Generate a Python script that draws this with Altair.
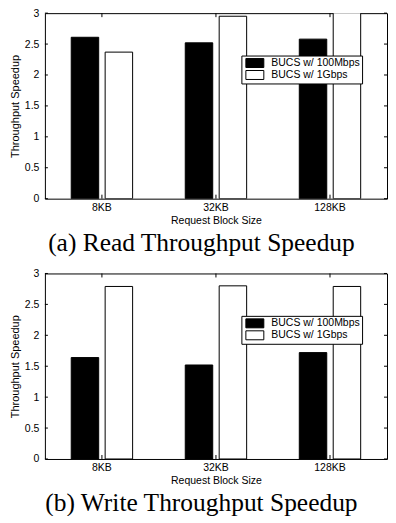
import altair as alt
import pandas as pd

categories = ["8KB", "32KB", "128KB"]
series = ["BUCS w/ 100Mbps", "BUCS w/ 1Gbps"]
read_100m = [2.61, 2.52, 2.58]
read_1g = [2.37, 2.95, 3.25]
write_100m = [1.64, 1.52, 1.72]
write_1g = [2.79, 2.80, 2.79]
y_ticks = [0, 0.5, 1, 1.5, 2, 2.5, 3]
captions = ["(a) Read Throughput Speedup", "(b) Write Throughput Speedup"]

W = 343
H = 186
SANS = "Liberation Sans"
SERIF = "Liberation Serif"

tick_df = pd.DataFrame({"value": y_ticks})
cat_df = pd.DataFrame({"size": categories})

x_axis = alt.Axis(
    title="Request Block Size",
    ticks=False,
    domain=False,
    labelAngle=0,
    labelPadding=4,
    titlePadding=2,
    labelFont=SANS,
    labelFontSize=10.5,
    labelColor="black",
    titleFont=SANS,
    titleFontSize=10.5,
    titleFontWeight="normal",
    titleColor="black",
)
y_axis = alt.Axis(
    title="Throughput Speedup",
    values=y_ticks,
    format="~g",
    ticks=False,
    domain=False,
    grid=False,
    labelPadding=6,
    titlePadding=4,
    labelFont=SANS,
    labelFontSize=10.5,
    labelColor="black",
    titleFont=SANS,
    titleFontSize=11,
    titleFontWeight="normal",
    titleColor="black",
)
x_scale = alt.Scale(paddingInner=0, paddingOuter=0)
y_scale = alt.Scale(domain=[0, 3], nice=False, zero=True)


def panel(v100, v1g, caption):
    rows = []
    for c, a, b in zip(categories, v100, v1g):
        rows.append({"size": c, "series": series[0], "value": a})
        rows.append({"size": c, "series": series[1], "value": b})
    df = pd.DataFrame(rows)

    bars = alt.Chart(df).mark_bar(stroke="black", strokeWidth=1, clip=True, opacity=1).encode(
        x=alt.X("size:N", sort=categories, scale=x_scale, axis=x_axis),
        xOffset=alt.XOffset(
            "series:N",
            sort=series,
            scale=alt.Scale(paddingInner=0.19, paddingOuter=0.776),
        ),
        y=alt.Y("value:Q", scale=y_scale, axis=y_axis),
        fill=alt.Fill(
            "series:N",
            sort=series,
            scale=alt.Scale(domain=series, range=["black", "white"]),
            legend=alt.Legend(
                title=None,
                orient="none",
                legendX=197,
                legendY=42.5,
                strokeColor="black",
                fillColor="white",
                padding=2,
                symbolType="M-0.6,-0.9H3.0V0.9H-0.6Z",
                symbolSize=100,
                symbolStrokeColor="black",
                symbolStrokeWidth=1,
                symbolOpacity=1,
                labelFont=SANS,
                labelFontSize=10.5,
                labelColor="black",
                labelOffset=17,
                labelExpr="datum.label + ' '",
                rowPadding=-4.8,
            ),
        ),
    )

    left_ticks = alt.Chart(tick_df).mark_rule(color="black", strokeWidth=1).encode(
        y=alt.Y("value:Q", scale=y_scale, axis=y_axis), x=alt.value(0), x2=alt.value(3)
    )
    right_ticks = alt.Chart(tick_df).mark_rule(color="black", strokeWidth=1).encode(
        y=alt.Y("value:Q", scale=y_scale, axis=y_axis), x=alt.value(W - 3), x2=alt.value(W)
    )
    bottom_ticks = alt.Chart(cat_df).mark_rule(color="black", strokeWidth=1).encode(
        x=alt.X("size:N", sort=categories, scale=x_scale, axis=x_axis),
        y=alt.value(H),
        y2=alt.value(H - 4),
    )
    top_ticks = alt.Chart(cat_df).mark_rule(color="black", strokeWidth=1).encode(
        x=alt.X("size:N", sort=categories, scale=x_scale, axis=x_axis),
        y=alt.value(0),
        y2=alt.value(4),
    )

    return alt.layer(bars, left_ticks, right_ticks, bottom_ticks, top_ticks).properties(
        width=W,
        height=H,
        view=alt.ViewBackground(stroke="black", strokeWidth=1, fill="white"),
        title=alt.TitleParams(
            text=caption,
            orient="bottom",
            anchor="middle",
            frame="bounds",
            font=SERIF,
            fontSize=25.5,
            fontWeight="normal",
            color="black",
            offset=5,
            dx=3,
        ),
    )


top = panel(read_100m, read_1g, captions[0])
bottom = panel(write_100m, write_1g, captions[1])

chart = (
    alt.vconcat(top, bottom, spacing=11)
    .resolve_scale(fill="independent")
    .resolve_legend(fill="independent")
    .properties(
        padding={"left": 0, "top": -1.5, "right": 0, "bottom": -2},
        background="white",
    )
    .configure_view(stroke="black", strokeWidth=1)
)

chart.save("out.html", embed_options={"renderer": "svg", "actions": False})
